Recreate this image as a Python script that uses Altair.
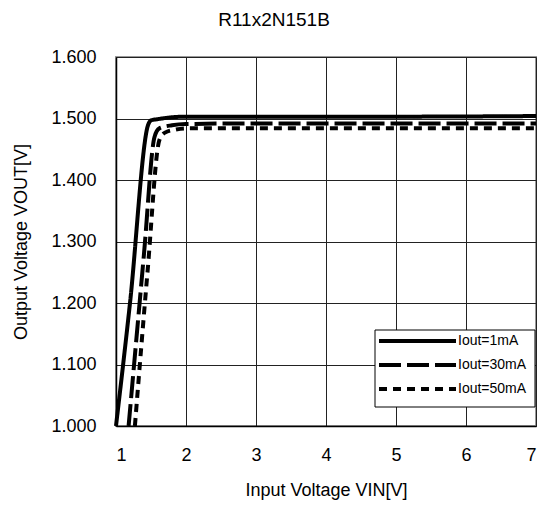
import altair as alt
import pandas as pd

series_names = ["Iout=1mA", "Iout=30mA", "Iout=50mA"]
series_dash = [[1, 0], [22, 6], [8, 6]]

vin_1 = [1.00, 1.20, 1.46, 1.50, 1.60, 1.80, 2.00, 3.00, 5.00, 7.00]
vout_1 = [1.000, 1.200, 1.490, 1.497, 1.499, 1.502, 1.503, 1.503, 1.503, 1.504]

vin_30 = [1.18, 1.40, 1.55, 1.62, 1.80, 2.00, 3.00, 5.00, 7.00]
vout_30 = [1.000, 1.280, 1.470, 1.484, 1.489, 1.491, 1.492, 1.492, 1.492]

vin_50 = [1.27, 1.45, 1.62, 1.70, 1.85, 2.00, 3.00, 5.00, 7.00]
vout_50 = [1.000, 1.250, 1.465, 1.477, 1.482, 1.484, 1.484, 1.484, 1.484]

x_ticks = [1, 2, 3, 4, 5, 6, 7]
y_ticks = [1.0, 1.1, 1.2, 1.3, 1.4, 1.5, 1.6]

rows = []
for name, xs, ys in zip(series_names, [vin_1, vin_30, vin_50], [vout_1, vout_30, vout_50]):
    for i, (a, b) in enumerate(zip(xs, ys)):
        rows.append({"series": name, "vin": a, "vout": b, "order": i})
df = pd.DataFrame(rows)

FONT = "Liberation Sans"

lines = alt.Chart(df).mark_line(strokeWidth=4, color="black", interpolate="monotone").encode(
    x=alt.X("vin:Q", scale=alt.Scale(domain=[1, 7], nice=False),
            axis=alt.Axis(values=x_ticks, title="Input Voltage VIN[V]", format="d",
                          labelPadding=20, titlePadding=17, ticks=False,
                          labelFontSize=18)),
    y=alt.Y("vout:Q", scale=alt.Scale(domain=[1.0, 1.6], nice=False, zero=False),
            axis=alt.Axis(values=y_ticks, title="Output Voltage  VOUT[V]", format=".3f",
                          labelPadding=20, titlePadding=20, ticks=False,
                          labelFontSize=18)),
    strokeDash=alt.StrokeDash("series:N",
        scale=alt.Scale(domain=series_names, range=series_dash), legend=None),
    order="order:Q",
    detail="series:N",
)

# manual legend (box + samples + labels)
legend_box = alt.Chart(pd.DataFrame({"a": [0]})).mark_rect(
    fill="white", stroke="black", strokeWidth=1
).encode(x=alt.value(259), x2=alt.value(419), y=alt.value(273), y2=alt.value(350))

legend_layers = [legend_box]
row_y = [284, 308, 332]
for name, dash, yy in zip(series_names, series_dash, row_y):
    one = pd.DataFrame({"series": [name]})
    legend_layers.append(
        alt.Chart(one).mark_rule(strokeWidth=4, color="black", strokeDash=dash).encode(
            x=alt.value(263), x2=alt.value(340), y=alt.value(yy))
    )
    legend_layers.append(
        alt.Chart(one).mark_text(align="left", baseline="middle", fontSize=14, font=FONT,
                                 color="black").encode(
            x=alt.value(342), y=alt.value(yy), text="series:N")
    )

chart = alt.layer(lines, *legend_layers).properties(
    width=420, height=369,
    title=alt.Title("R11x2N151B", fontSize=19, font=FONT, fontWeight="normal",
                    offset=18, dx=-52, anchor="middle", color="black"),
    autosize=alt.AutoSizeParams(type="none"),
    padding={"left": 108, "top": 49, "right": 8, "bottom": 76},
    background="white",
).configure_axis(
    labelFont=FONT, titleFont=FONT, titleFontSize=18,
    titleFontWeight="normal", labelColor="black", titleColor="black",
    gridColor="#222", gridWidth=1, gridOpacity=1, domainColor="black", domainWidth=1.5,
).configure_view(
    stroke="#999", strokeWidth=2,
)

chart.save("out.html", embed_options={"renderer": "svg", "actions": False})
